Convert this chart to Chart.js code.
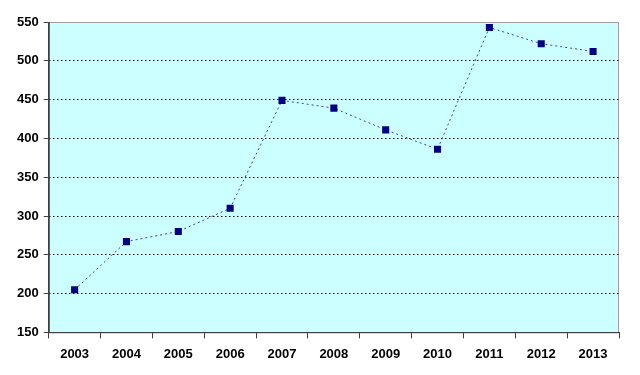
<!DOCTYPE html>
<html>
<head>
<meta charset="utf-8">
<script src="https://cdn.jsdelivr.net/npm/chart.js@4/dist/chart.umd.min.js"></script>
<style>
  html, body { margin: 0; padding: 0; background: #fff; }
  #wrap { width: 640px; height: 375px; }
</style>
</head>
<body>
<div id="wrap"><canvas id="chart"></canvas></div>
<script>
// ── Data ──────────────────────────────────────────────────────────────────────
const YEARS  = ['2003', '2004', '2005', '2006', '2007', '2008', '2009', '2010', '2011', '2012', '2013'];
const VALUES = [205, 267, 280, 310, 449, 439, 411, 386, 543, 522, 512];
const Y_MIN  = 150;
const Y_MAX  = 550;
const Y_STEP = 50;

const TICK_FONT = { family: '"Liberation Sans", Arial, sans-serif', size: 13, weight: 'bold' };
const AXIS_COLOR = '#404040';

/** Cyan plot background, grey frame, and a solid left axis line. */
const plotArea = {
  id: 'plotArea',
  beforeDraw(chart) {
    const { ctx, chartArea: a } = chart;
    ctx.save();
    ctx.fillStyle = '#ccffff';
    ctx.fillRect(a.left, a.top, a.right - a.left, a.bottom - a.top);
    ctx.strokeStyle = '#a0a0a0';
    ctx.lineWidth = 1;
    ctx.strokeRect(a.left + 0.5, a.top + 0.5, a.right - a.left - 1, a.bottom - a.top);
    ctx.restore();
  },
  beforeDatasetsDraw(chart) {
    // y border shares the grid dash in v4, so redraw it solid
    const { ctx, chartArea: a } = chart;
    ctx.save();
    ctx.strokeStyle = AXIS_COLOR;
    ctx.lineWidth = 1;
    ctx.beginPath();
    ctx.moveTo(a.left + 0.5, a.top);
    ctx.lineTo(a.left + 0.5, a.bottom);
    ctx.stroke();
    ctx.restore();
  },
};

new Chart(document.getElementById('chart').getContext('2d'), {
  type: 'line',
  data: {
    labels: YEARS,
    datasets: [{
      data:            VALUES,
      borderColor:     '#4040b8',
      borderWidth:     1,
      borderDash:      [2, 3],
      pointStyle:      'rect',
      pointRadius:     5,
      pointBackgroundColor: '#000080',
      pointBorderColor:     '#000080',
      pointBorderWidth: 0,
      tension:         0,
    }],
  },
  options: {
    responsive:          true,
    maintainAspectRatio: false,
    animation:           false,
    layout: { padding: { top: 22, right: 21, bottom: 5, left: 12 } },
    plugins: { legend: { display: false }, tooltip: { enabled: false } },
    scales: {
      x: {
        offset: true,
        grid: {
          offset: true,
          drawOnChartArea: false,
          tickLength: 6,
          tickColor: AXIS_COLOR,
        },
        border: { color: AXIS_COLOR, width: 1 },
        ticks: { color: '#000', font: TICK_FONT, padding: 8, maxRotation: 0 },
      },
      y: {
        min: Y_MIN,
        max: Y_MAX,
        grid: {
          color: c => (c.tick && (c.tick.value === Y_MIN || c.tick.value === Y_MAX)) ? 'transparent' : '#000',
          tickColor: AXIS_COLOR,
          tickLength: 5,
          tickBorderDash: [],
        },
        border: { color: AXIS_COLOR, width: 1, dash: [1.5, 2.5] },
        ticks: { stepSize: Y_STEP, color: '#000', font: TICK_FONT, padding: 5 },
      },
    },
  },
  plugins: [plotArea],
});
</script>
</body>
</html>
